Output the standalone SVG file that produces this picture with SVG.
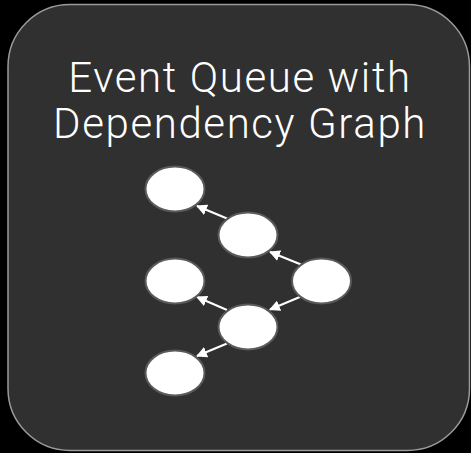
<svg xmlns="http://www.w3.org/2000/svg" width="471" height="453" viewBox="0 0 471 453">
<defs>
<style>
.node ellipse{fill:#ffffff;stroke:#5a5a5a;stroke-width:2}
.edge{stroke:#ffffff;stroke-width:2;fill:none;marker-end:url(#arr)}
.title{font-family:Roboto,"Open Sans","Liberation Sans",sans-serif;font-weight:300;font-size:42px;letter-spacing:1.6px;fill:#ffffff;text-anchor:middle}
</style>
<marker id="arr" viewBox="0 0 10 10" refX="9" refY="5" markerWidth="5.5" markerHeight="5.5" orient="auto" markerUnits="strokeWidth">
<path d="M0,0 L10,5 L0,10 z" fill="#ffffff"/>
</marker>
</defs>
<rect x="0" y="0" width="471" height="453" fill="#000000"/>
<g id="panel">
<rect x="8" y="4.5" width="461.5" height="446" rx="62" ry="62" fill="#303030" stroke="#9a9a9a" stroke-width="1.5"/>
<text class="title" x="240" y="92">Event Queue with</text>
<text class="title" x="240" y="138">Dependency Graph</text>
</g>
<g id="connectors">
<line class="edge" x1="227" y1="218.5" x2="197" y2="206"/>
<line class="edge" x1="301" y1="264.5" x2="270" y2="252"/>
<line class="edge" x1="301" y1="296.5" x2="270" y2="309.5"/>
<line class="edge" x1="227" y1="310" x2="197" y2="297"/>
<line class="edge" x1="227" y1="343.5" x2="197" y2="356"/>
</g>
<g id="n1" class="node"><ellipse cx="175" cy="189" rx="29.5" ry="22.5"/></g>
<g id="n2" class="node"><ellipse cx="248" cy="235" rx="29.5" ry="22.5"/></g>
<g id="n3" class="node"><ellipse cx="175" cy="281" rx="29.5" ry="22.5"/></g>
<g id="n4" class="node"><ellipse cx="321.5" cy="281" rx="29.5" ry="22.5"/></g>
<g id="n5" class="node"><ellipse cx="248" cy="327" rx="29.5" ry="22.5"/></g>
<g id="n6" class="node"><ellipse cx="175" cy="373" rx="29.5" ry="22.5"/></g>
</svg>
